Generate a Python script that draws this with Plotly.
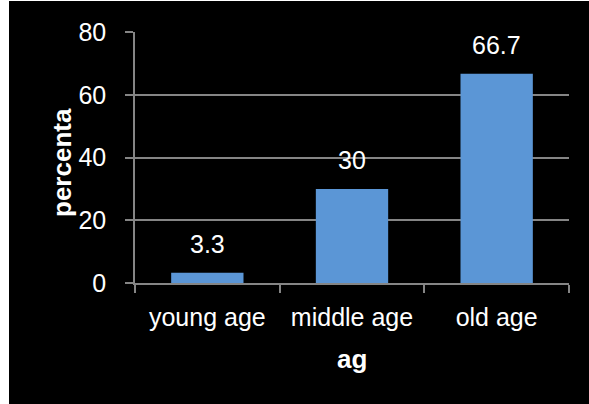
import plotly.graph_objects as go

# Share of respondents per age group (%)
categories = ["young age", "middle age", "old age"]
values = [3.3, 30, 66.7]
value_labels = ["3.3", "30", "66.7"]
y_ticks = [0, 20, 40, 60, 80]

W, H = 589, 404
L, R, T, B = 135, 20, 32, 121
plot_w = W - L - R
plot_h = H - T - B

FONT = "Liberation Sans, Arial, sans-serif"
GRID = "#858585"

fig = go.Figure(
    go.Bar(
        x=categories,
        y=values,
        width=0.5,
        marker=dict(color="#5b96d6", line=dict(width=0)),
        hoverinfo="x+y",
    )
)

# value labels above bars
for c, v, t in zip(categories, values, value_labels):
    fig.add_annotation(
        x=c, y=v, text=t, showarrow=False, yanchor="bottom",
        yshift=13, font=dict(family=FONT, size=25, color="white"),
    )

# y axis title
fig.add_annotation(
    xref="paper", yref="paper",
    x=(62 - L) / plot_w, y=(H - B - 163) / plot_h,
    text="<b>percenta</b>", textangle=-90, showarrow=False,
    xanchor="center", yanchor="middle",
    font=dict(family=FONT, size=26, color="white"),
)

# x axis title
fig.add_annotation(
    xref="paper", yref="paper",
    x=0.5, y=-(359 - (H - B)) / plot_h,
    text="<b>ag</b>", showarrow=False,
    xanchor="center", yanchor="middle",
    font=dict(family=FONT, size=26, color="white"),
)

# white page edges on the left and top
fig.add_shape(
    type="rect", xref="paper", yref="paper",
    x0=-L / plot_w, x1=(9 - L) / plot_w, y0=-2, y1=2,
    fillcolor="white", line=dict(width=0), layer="above",
)
fig.add_shape(
    type="rect", xref="paper", yref="paper",
    x0=-1, x1=2, y0=1 + (T - 1) / plot_h, y1=1 + (T + 5) / plot_h,
    fillcolor="white", line=dict(width=0), layer="above",
)

fig.update_layout(
    width=W, height=H,
    margin=dict(l=L, r=R, t=T, b=B, autoexpand=False),
    paper_bgcolor="black",
    plot_bgcolor="black",
    font=dict(family=FONT, size=25, color="white"),
    showlegend=False,
    bargap=0.5,
    xaxis=dict(
        showline=True, linecolor=GRID, linewidth=1.5,
        ticks="outside", tickson="boundaries", ticklen=8, tickcolor=GRID, tickwidth=1.5,
        tickfont=dict(size=25), ticklabelstandoff=11,
        automargin=False,
    ),
    yaxis=dict(
        range=[0, 80], tickvals=y_ticks,
        showline=True, linecolor=GRID, linewidth=1.5,
        showgrid=True, gridcolor=GRID, gridwidth=1.5,
        ticks="outside", ticklen=8, tickcolor=GRID, tickwidth=1.5,
        tickfont=dict(size=25), ticklabelstandoff=14,
        zeroline=False,
        automargin=False,
    ),
)

fig.write_html("out.html")
